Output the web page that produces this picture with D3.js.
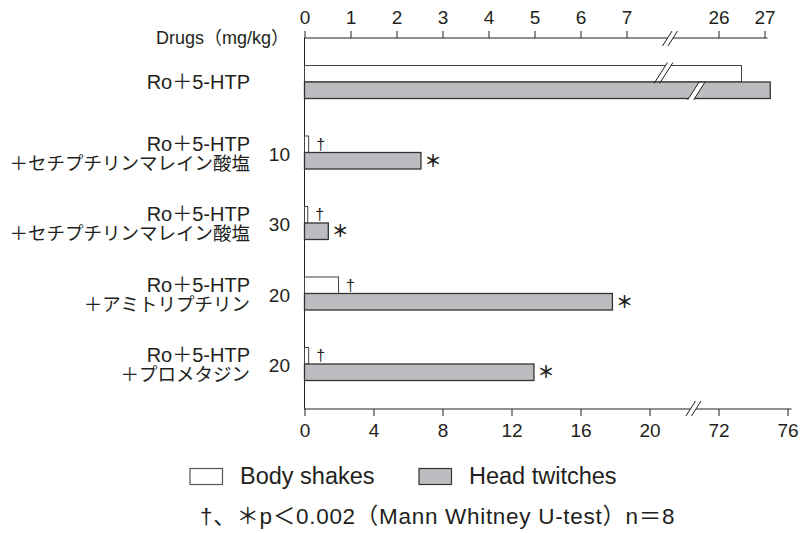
<!DOCTYPE html>
<html><head><meta charset="utf-8">
<script src="https://cdn.jsdelivr.net/npm/d3@7"></script>
<style>
body{margin:0;background:#fff}
text{font-family:"Liberation Sans",Arial,"Noto Sans CJK JP",sans-serif;fill:#231f20}
</style>
</head><body>
<svg id="c" width="809" height="533"></svg>
<script>
// ---- data ----
const labelLine1 = ["Ro＋5-HTP","Ro＋5-HTP","Ro＋5-HTP","Ro＋5-HTP","Ro＋5-HTP"];
const labelLine2 = ["","＋セチプチリンマレイン酸塩","＋セチプチリンマレイン酸塩","＋アミトリプチリン","＋プロメタジン"];
const doses = ["","10","30","20","20"];
const bodyShakes = [26.5,0.09,0.07,0.74,0.09];      // top axis scale
const headTwitches = [75,6.75,1.38,17.85,13.3];      // bottom axis scale
const bodySig = [false,true,true,true,true];
const headSig = [false,true,true,true,true];
const topTicks = [0,1,2,3,4,5,6,7,26,27];
const bottomTicks = [0,4,8,12,16,20,72,76];
const seriesNames = ["Body shakes","Head twitches"];
const topAxisTitle = "Drugs（mg/kg）";
const footnote = "†、＊p＜0.002（Mann Whitney U-test）n＝8";

// ---- layout ----
const svg = d3.select("#c");
const ink = "#231f20", grayFill = "#bcbdc1";
const x0 = 304.5, u = 46, b = 17.25;
const topY = 38, botY = 409, barH = 16.5;

const xTop = d3.scaleLinear().domain([0,7,26,27]).range([x0, x0+7*u, x0+9*u, x0+10*u]);
const xBot = d3.scaleLinear().domain([0,20,72,76]).range([x0, x0+20*b, x0+24*b, x0+28*b]);
const yRow = d3.scalePoint().domain(d3.range(labelLine1.length)).range([82, 364]);

function breakMark(g, x, y1, y2, gap, coverTop, coverBot) {
  const slope = 0.32;
  const dx1 = (y2 - y1) * slope;
  const cy1 = coverTop, cy2 = coverBot;
  const xAt = (xx, yy) => xx + (y2 - yy) * slope * 2 - dx1;
  const lx = x - gap/2, rx = x + gap/2;
  g.append("polygon")
    .attr("points", [[xAt(lx,cy2),cy2],[xAt(lx,cy1),cy1],[xAt(rx,cy1),cy1],[xAt(rx,cy2),cy2]].map(p=>p.join(",")).join(" "))
    .attr("fill","#fff");
  [lx, rx].forEach(xx => {
    g.append("line")
      .attr("x1", xx - dx1).attr("y1", y2)
      .attr("x2", xx + dx1).attr("y2", y1)
      .attr("stroke", ink).attr("stroke-width", 1);
  });
}

// top axis
const gTop = svg.append("g").attr("transform",`translate(0,${topY})`)
  .call(d3.axisTop(xTop).tickValues(topTicks).tickSize(7).tickPadding(7).tickSizeOuter(0));
gTop.select(".domain").remove();
gTop.append("line").attr("x1",x0).attr("x2",xTop(27)+3).attr("y1",0).attr("y2",0).attr("stroke",ink);
gTop.selectAll(".tick line").attr("stroke",ink);
gTop.selectAll(".tick text").attr("font-size",19);
breakMark(gTop, x0+8*u-2.5, -7, 8, 5.5, -3, 3);

svg.append("text").attr("x",289).attr("y",topY+6).attr("text-anchor","end")
  .attr("font-size",18).text(topAxisTitle);

// bottom axis
const gBot = svg.append("g").attr("transform",`translate(0,${botY})`)
  .call(d3.axisBottom(xBot).tickValues(bottomTicks).tickSize(7).tickPadding(8).tickSizeOuter(0));
gBot.select(".domain").remove();
gBot.append("line").attr("x1",x0).attr("x2",xBot(76)+4).attr("y1",0).attr("y2",0).attr("stroke",ink);
gBot.selectAll(".tick line").attr("stroke",ink);
gBot.selectAll(".tick text").attr("font-size",19);
breakMark(gBot, x0+22.55*b, -8, 7, 5.5, -3, 3);

// vertical axis
svg.append("line").attr("x1",x0).attr("x2",x0).attr("y1",topY).attr("y2",botY).attr("stroke",ink);

// bars
const gBars = svg.append("g");
labelLine1.forEach((_, i) => {
  const c = yRow(i);
  gBars.append("rect").attr("x",x0).attr("y",c-barH)
    .attr("width",xTop(bodyShakes[i])-x0).attr("height",barH)
    .attr("fill","#fff").attr("stroke","#444").attr("stroke-width",1);
});
labelLine1.forEach((_, i) => {
  const c = yRow(i);
  gBars.append("rect").attr("x",x0).attr("y",c)
    .attr("width",xBot(headTwitches[i])-x0).attr("height",barH)
    .attr("fill",grayFill).attr("stroke","#333").attr("stroke-width",1.3);
});
labelLine1.forEach((_, i) => {
  const c = yRow(i);
  if (bodyShakes[i] > 7) breakMark(gBars, x0+8*u-9, c-barH-3, c+1.5, 5.5, c-barH-3, c-1);
  if (headTwitches[i] > 20) breakMark(gBars, x0+22.55*b+3, c-0.5, c+barH+1.5, 6, c+1, c+barH+2);
});

// significance marks
labelLine1.forEach((_, i) => {
  const c = yRow(i);
  if (bodySig[i]) svg.append("text").attr("x",xTop(bodyShakes[i])+12).attr("y",c-barH/2)
    .attr("dy","0.35em").attr("text-anchor","middle").attr("font-size",16).text("†");
  if (headSig[i]) svg.append("text").attr("x",xBot(headTwitches[i])+12).attr("y",c+barH/2)
    .attr("dy","0.36em").attr("text-anchor","middle").attr("font-size",17)
    .attr("font-weight","bold").text("＊");
});

// category labels
labelLine1.forEach((l1, i) => {
  const c = yRow(i);
  const t = svg.append("text").attr("text-anchor","end").attr("x",250);
  if (labelLine2[i]) {
    t.append("tspan").attr("x",250).attr("y",c-2).attr("font-size",20).text(l1);
    t.append("tspan").attr("x",250).attr("y",c+17).attr("font-size",18.5).text(labelLine2[i]);
  } else {
    t.attr("y",c+7).attr("font-size",20).text(l1);
  }
  if (doses[i]) svg.append("text").attr("x",290).attr("y",c+8).attr("text-anchor","end")
    .attr("font-size",19).text(doses[i]);
});

// legend
const legendX = [190, 419];
const legendFill = ["#fff", grayFill];
const legendStroke = ["#555", "#333"];
seriesNames.forEach((name, i) => {
  svg.append("rect").attr("x",legendX[i]).attr("y",468.5).attr("width",32.5).attr("height",16)
    .attr("fill",legendFill[i]).attr("stroke",legendStroke[i]).attr("stroke-width",1.2);
  svg.append("text").attr("x",legendX[i]+50).attr("y",484).attr("font-size",23.5).text(name);
});

// footnote
svg.append("text").attr("x",200).attr("y",524).attr("font-size",22.5)
  .attr("letter-spacing",0.7).text(footnote);
</script>
</body></html>
